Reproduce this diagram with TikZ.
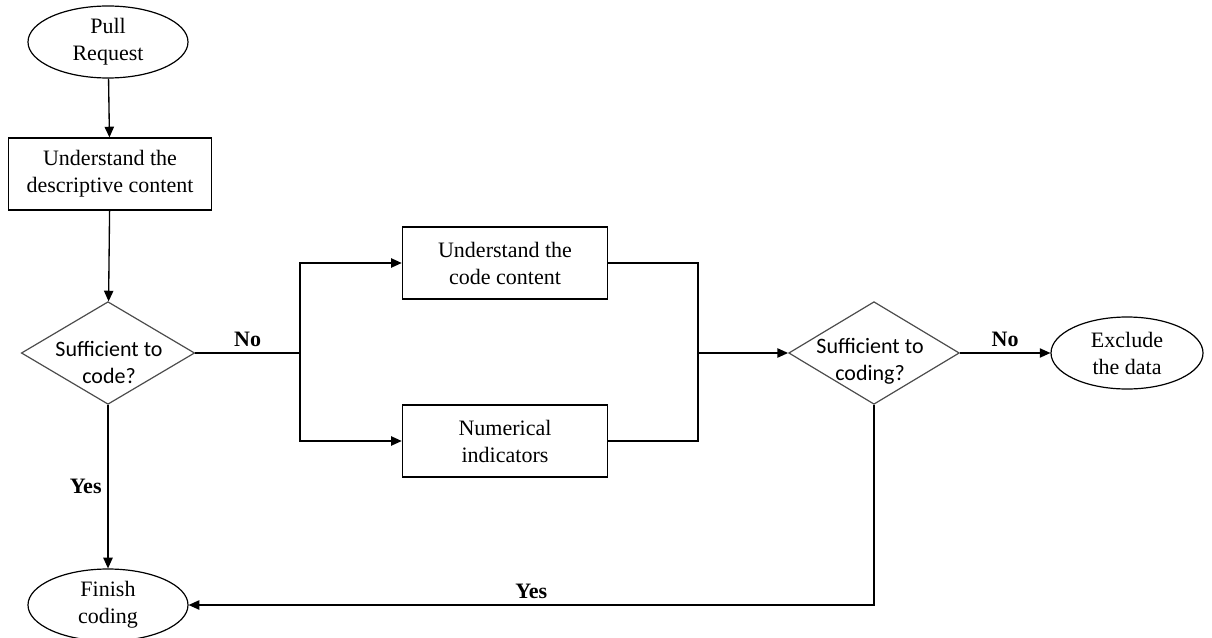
\documentclass[tikz,border=0pt]{standalone}
\usepackage{fontspec}
\setmainfont{Liberation Serif}
\newfontfamily\calfont{Carlito}
\usepackage{tikz}
\usetikzlibrary{shapes.geometric,arrows.meta}
\tikzset{
  >={Triangle[length=8pt,width=7pt]},
  flow/.style ={line width=1pt, ->},
  link/.style ={line width=1pt},
}

\begin{document}
\begin{tikzpicture}[x=0.75pt, y=-0.75pt,
  font=\fontsize{16.5}{20.25}\selectfont,
  terminal/.style={draw, ellipse, line width=0.9pt, align=center,
    minimum width=120pt, minimum height=54pt, inner sep=0pt},
  process/.style={draw, rectangle, line width=0.9pt, align=center,
    minimum width=154pt, minimum height=54pt, inner sep=0pt},
  decision/.style={draw=black!70, diamond, line width=0.9pt,
    minimum width=130pt, minimum height=77pt, inner sep=0pt},
  dtext/.style={align=center, inner sep=0pt,
    font=\calfont\fontsize{16.5}{20.25}\selectfont},
  answer/.style={font=\rmfamily\bfseries\fontsize{16.5}{20.25}\selectfont}
]
\useasboundingbox (0,0) rectangle (1212,638);

%--- Nodes ---
\node[terminal] (pull)   at (108,42)  {Pull\\Request};
\node[process, minimum width=152pt] (desc) at (110,174) {Understand the\\descriptive content};
\node[decision] (suff)   at (108,353) {};
\node[dtext] (sufftext) at (109,362) {Sufficient to\\code?};
\node[terminal] (finish) at (108,605) {Finish\\coding};

\node[process]  (code)   at (505,263) {Understand the\\code content};
\node[process]  (num)    at (505,441) {Numerical\\indicators};

\node[decision, minimum width=128pt] (suffb) at (874,353) {};
\node[dtext] (suffbtext) at (870,361) {Sufficient to\\coding?};
\node[terminal, minimum width=114pt] (excl) at (1127,353) {Exclude\\the data};

% branch points
\coordinate (split) at (300,353);
\coordinate (join)  at (698,353);

%--- Connectors ---
\draw[flow] (pull) -- (desc);
\draw[flow] (desc) -- (suff);

\draw[link] (suff.east) -- (split) node[midway, above=1pt, answer] {No};
\draw[flow] (split) |- (code.west);
\draw[flow] (split) |- (num.west);

\draw[link] (code.east) -| (join);
\draw[link] (num.east) -| (join);
\draw[flow] (join) -- (suffb.west);

\draw[flow] (suffb.east) -- (excl.west) node[midway, above=1pt, answer] {No};
\draw[flow] (suff.south) -- (finish.north) node[midway, left=1pt, answer] {Yes};
\draw[flow] (suffb.south) |- (finish.east) node[pos=0.75, above=1pt, answer] {Yes};

\end{tikzpicture}
\end{document}
